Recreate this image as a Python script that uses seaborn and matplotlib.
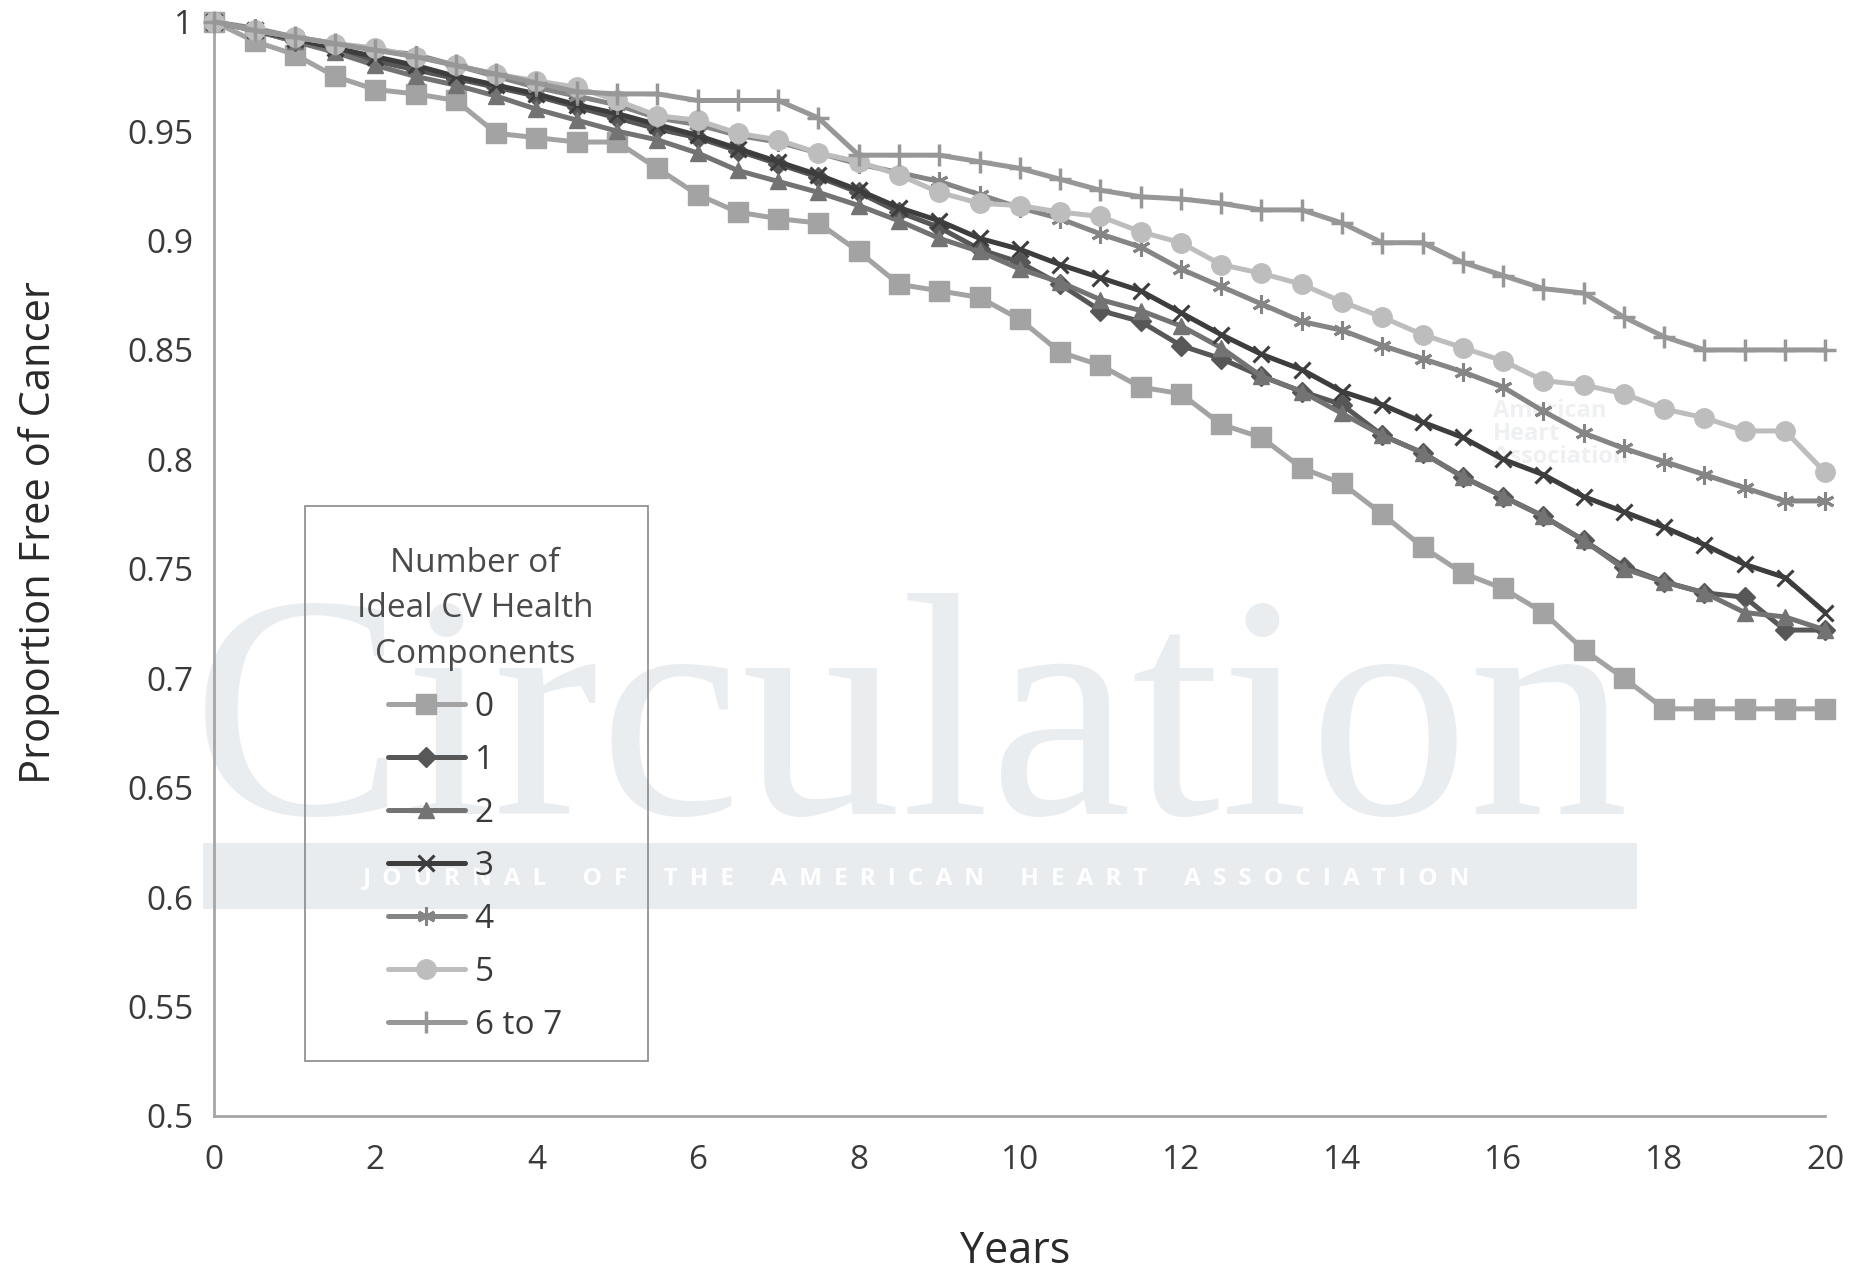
import matplotlib
matplotlib.use('Agg')
import matplotlib.pyplot as plt
import matplotlib.patches as mpatches
from matplotlib.ticker import FuncFormatter, MultipleLocator
import seaborn as sns
import pandas as pd

sns.set_style('white')
plt.rcParams['font.family'] = ['Open Sans', 'DejaVu Sans']

years = [0, 0.5, 1, 1.5, 2, 2.5, 3, 3.5, 4, 4.5, 5, 5.5, 6, 6.5, 7, 7.5, 8, 8.5, 9, 9.5, 10,
         10.5, 11, 11.5, 12, 12.5, 13, 13.5, 14, 14.5, 15, 15.5, 16, 16.5, 17, 17.5, 18, 18.5, 19, 19.5, 20]

# proportion free of cancer, one list per group
comp0 = [1.000, 0.991, 0.985, 0.975, 0.969, 0.967, 0.964, 0.949, 0.947, 0.945, 0.945, 0.933, 0.921, 0.913,
         0.910, 0.908, 0.895, 0.880, 0.877, 0.874, 0.864, 0.849, 0.843, 0.833, 0.830, 0.816, 0.810, 0.796,
         0.789, 0.775, 0.760, 0.748, 0.741, 0.730, 0.713, 0.700, 0.686, 0.686, 0.686, 0.686, 0.686]
comp1 = [1.000, 0.996, 0.991, 0.987, 0.982, 0.978, 0.974, 0.970, 0.966, 0.961, 0.956, 0.951, 0.947, 0.941,
         0.935, 0.929, 0.922, 0.913, 0.906, 0.896, 0.890, 0.880, 0.868, 0.863, 0.852, 0.846, 0.838, 0.831,
         0.825, 0.811, 0.803, 0.792, 0.783, 0.774, 0.763, 0.751, 0.744, 0.739, 0.737, 0.722, 0.722]
comp2 = [1.000, 0.996, 0.991, 0.986, 0.980, 0.975, 0.971, 0.966, 0.960, 0.955, 0.950, 0.946, 0.940, 0.932,
         0.927, 0.922, 0.916, 0.909, 0.901, 0.895, 0.887, 0.881, 0.873, 0.868, 0.861, 0.851, 0.838, 0.831,
         0.821, 0.811, 0.803, 0.792, 0.783, 0.774, 0.763, 0.750, 0.744, 0.739, 0.730, 0.728, 0.722]
comp3 = [1.000, 0.996, 0.992, 0.988, 0.984, 0.980, 0.975, 0.971, 0.967, 0.962, 0.958, 0.953, 0.948, 0.942,
         0.936, 0.930, 0.923, 0.915, 0.909, 0.901, 0.896, 0.889, 0.883, 0.877, 0.867, 0.857, 0.848, 0.841,
         0.831, 0.825, 0.817, 0.810, 0.800, 0.793, 0.783, 0.776, 0.769, 0.761, 0.752, 0.746, 0.730]
comp4 = [1.000, 0.997, 0.993, 0.990, 0.987, 0.985, 0.980, 0.975, 0.970, 0.966, 0.962, 0.956, 0.953, 0.948,
         0.945, 0.940, 0.935, 0.931, 0.927, 0.921, 0.915, 0.910, 0.903, 0.897, 0.887, 0.879, 0.871, 0.863,
         0.859, 0.852, 0.846, 0.840, 0.833, 0.822, 0.812, 0.805, 0.799, 0.793, 0.787, 0.781, 0.781]
comp5 = [1.000, 0.996, 0.993, 0.990, 0.988, 0.984, 0.980, 0.976, 0.973, 0.970, 0.964, 0.957, 0.955, 0.949,
         0.946, 0.940, 0.936, 0.930, 0.922, 0.917, 0.916, 0.913, 0.911, 0.904, 0.899, 0.889, 0.885, 0.880,
         0.872, 0.865, 0.857, 0.851, 0.845, 0.836, 0.834, 0.830, 0.823, 0.819, 0.813, 0.813, 0.794]
comp67 = [1.000, 0.996, 0.993, 0.990, 0.987, 0.984, 0.980, 0.976, 0.972, 0.968, 0.967, 0.967, 0.964, 0.964,
          0.964, 0.956, 0.939, 0.939, 0.939, 0.936, 0.933, 0.928, 0.923, 0.920, 0.919, 0.917, 0.914, 0.914,
          0.908, 0.899, 0.899, 0.890, 0.884, 0.878, 0.876, 0.865, 0.856, 0.850, 0.850, 0.850, 0.850]

groups = ['0', '1', '2', '3', '4', '5', '6 to 7']
series = [comp0, comp1, comp2, comp3, comp4, comp5, comp67]

colors = ['#a3a3a3', '#575757', '#737373', '#3d3d3d', '#858585', '#bdbdbd', '#979797']
markers = ['s', 'D', '^', 'x', (6, 2, 0), 'o', '+']
msizes = [14, 10, 12, 12, 13, 14, 16]
mews = [1, 1, 1, 2.2, 2.2, 1, 2.5]

fig, ax = plt.subplots(figsize=(18.55, 12.76), dpi=100)
fig.subplots_adjust(left=0.1155, right=0.984, top=0.983, bottom=0.1255)

# faint journal watermark behind the data
ax.text(0.491, 0.362, 'Circulation', transform=fig.transFigure, ha='center', va='baseline',
        fontsize=230, family=['Liberation Serif', 'DejaVu Serif'], color='#eaedf0', zorder=0.3, clip_on=False)
ax.add_patch(mpatches.Rectangle((0.1097, 0.288), 0.773, 0.051, transform=fig.transFigure,
                                facecolor='#e9ecef', edgecolor='none', zorder=0.4, clip_on=False))
band = '\u2002\u2002\u2002'.join('\u2002'.join(w) for w in 'JOURNAL OF THE AMERICAN HEART ASSOCIATION'.split())
ax.text(0.494, 0.312, band, transform=fig.transFigure, ha='center', va='center',
        fontsize=17.5, fontweight='bold', color='white', zorder=0.5, clip_on=False)
ax.text(0.805, 0.660, 'American\nHeart\nAssociation', transform=fig.transFigure, ha='left', va='center',
        fontsize=17, fontweight='bold', color='#eef0f2', linespacing=0.95, zorder=0.3, clip_on=False)

for name, vals, c, m, ms, mw in zip(groups, series, colors, markers, msizes, mews):
    df = pd.DataFrame({'Years': years, 'Proportion': vals})
    sns.lineplot(data=df, x='Years', y='Proportion', ax=ax, color=c, linewidth=3.6,
                 marker=m, markersize=ms, markeredgecolor=c, markerfacecolor=c,
                 markeredgewidth=mw, label=name, clip_on=False, zorder=3)

ax.set_xlim(0, 20)
ax.set_ylim(0.5, 1.0)
ax.xaxis.set_major_locator(MultipleLocator(2))
ax.yaxis.set_major_locator(MultipleLocator(0.05))
ax.yaxis.set_major_formatter(FuncFormatter(lambda v, p: f'{v:g}'))

for side in ['top', 'right']:
    ax.spines[side].set_visible(False)
for side in ['left', 'bottom']:
    ax.spines[side].set_color('#a6a6a6')
    ax.spines[side].set_linewidth(2)
ax.tick_params(axis='both', direction='out', length=8, width=1.8, color='#a6a6a6',
               labelsize=24, labelcolor='#3a3a3a')
ax.tick_params(axis='x', pad=12)
ax.tick_params(axis='y', pad=7)

ax.set_xlabel('Years', fontsize=31, color='#2a2a2a')
ax.set_ylabel('Proportion Free of Cancer', fontsize=30, color='#2a2a2a')
ax.xaxis.set_label_coords(0.497, -0.104)
ax.yaxis.set_label_coords(-0.096, 0.533)

# legend box drawn separately so its size follows the reference
ax.add_patch(mpatches.Rectangle((0.1644, 0.1685), 0.1849, 0.4349, transform=fig.transFigure,
                                facecolor='none', edgecolor='#8a8a8a', linewidth=1.2,
                                zorder=4, clip_on=False))
leg = ax.legend(title='Number of\nIdeal CV Health\nComponents', loc='upper center',
                bbox_to_anchor=(0.2560, 0.5715), bbox_transform=fig.transFigure,
                fontsize=24, title_fontsize=24, frameon=False,
                handlelength=2.3, handletextpad=0.3, labelspacing=0.6,
                borderpad=0, borderaxespad=0)
leg.get_title().set_color('#4a4a4a')
leg.get_title().set_multialignment('center')
leg.get_title().set_linespacing(1.5)
for t in leg.get_texts():
    t.set_color('#3a3a3a')

fig.savefig('out.png', dpi=100)
